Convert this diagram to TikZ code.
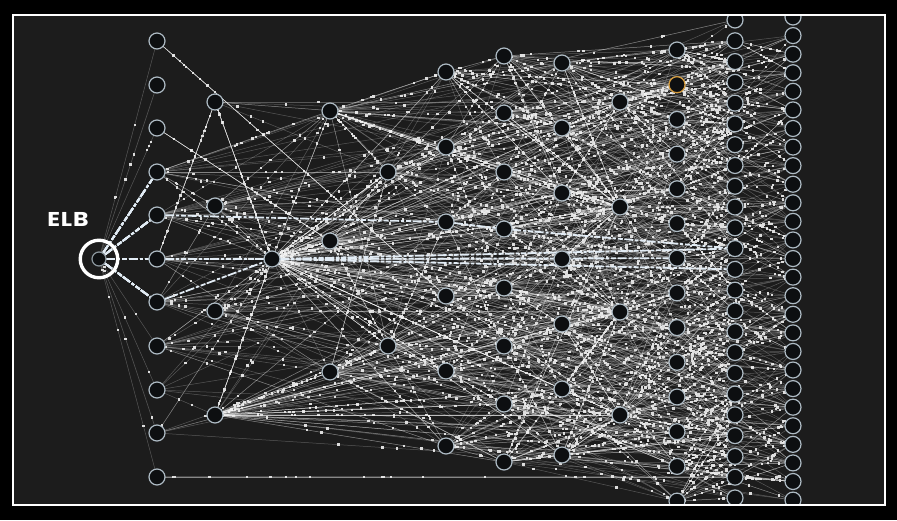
\documentclass[tikz,border=0pt]{standalone}
\usepackage{fontspec}
\newfontfamily\elbfont{Poppins}[LetterSpace=4,FakeStretch=1.18]
\usetikzlibrary{calc}
\definecolor{panel}{HTML}{1C1C1C}
\definecolor{hubline}{HTML}{AEBBC4}
\definecolor{hubfill}{HTML}{0D0F11}
\definecolor{hot}{HTML}{E2ECF5}
\definecolor{packet}{HTML}{DCDCDC}
\definecolor{warn}{HTML}{D49A3A}

% nodes per column, left to right, and where each column starts and ends
\def\colsize{{11,4,1,3,2,6,8,7,4,14,24,27}}
\def\coltop{{41,102,259,111,172,72,56,63,102,50,20,17}}
\def\colbot{{477,415,259,372,346,446,462,455,415,501,498,500}}
% one link with packets on it
\newcommand\netlink[2]{%
  \pgfmathsetmacro\pa{rnd}\pgfmathsetmacro\pb{rnd}\pgfmathsetmacro\pc{rnd}%
  \draw[link] (#1) -- (#2);
  \fill[packet] ($(#1)!\pa!(#2)$) ++(-1.2,-1.2) rectangle ++(2.4,2.4);
  \fill[packet] ($(#1)!\pb!(#2)$) ++(-1.2,-1.2) rectangle ++(2.4,2.4);
  \fill[packet] ($(#1)!\pc!(#2)$) ++(-1.2,-1.2) rectangle ++(2.4,2.4);}
% random links from some rows of a column to columns further right
\newcommand\fanright[4]{% column, rows, links per row, vertical spread
  \foreach \ri in {#2}{
    \path (n#1-\ri.center); \pgfgetlastxy{\sx}{\sy}
    \foreach \ei in {1,...,#3}{
      \pgfmathtruncatemacro\tc{random(#1+1,12)}
      \pgfmathtruncatemacro\tm{\colsize[\tc-1]}
      \pgfmathsetmacro\ttop{\coltop[\tc-1]}
      \pgfmathsetmacro\tbot{\colbot[\tc-1]}
      \pgfmathsetmacro\ty{-1*(\sy)+random(-#4,#4)}
      \pgfmathsetmacro\ty{\ttop+abs(\ty-\ttop)}
      \pgfmathsetmacro\ty{\tbot-abs(\tbot-\ty)}
      \pgfmathtruncatemacro\tr{min(\tm,max(1,round((\ty-\ttop)/max(1,\tbot-\ttop)*(\tm-1))+1))}
      \netlink{n#1-\ri}{n\tc-\tr}
    }}}

\begin{document}
\begin{tikzpicture}[x=1pt,y=-1pt,
  hub/.style={circle,minimum size=16pt,inner sep=0pt},
  hubring/.style={draw=hubline,fill=hubfill,line width=1.2pt},
  link/.style={draw=white,draw opacity=0.26,line width=0.5pt},
  hotlink/.style={draw=hot,line width=1.8pt,dash pattern=on 9pt off 2pt on 3pt off 2pt on 5pt off 1.5pt}
]
\useasboundingbox (0,0) rectangle (897,520);
\fill[black] (0,0) rectangle (897,520);
\fill[panel] (13,15) rectangle (885,505);

% servers, column by column
\foreach \y [count=\i] in {41,85,128,172,215,259,302,346,390,433,477}
  \node[hub] (n1-\i) at (157,\y) {};
\foreach \y [count=\i] in {102,206,311,415}
  \node[hub] (n2-\i) at (215,\y) {};
\node[hub] (n3-1) at (272,259) {};
\foreach \y [count=\i] in {111,241,372}
  \node[hub] (n4-\i) at (330,\y) {};
\foreach \y [count=\i] in {172,346}
  \node[hub] (n5-\i) at (388,\y) {};
\foreach \y [count=\i] in {72,147,222,296,371,446}
  \node[hub] (n6-\i) at (446,\y) {};
\foreach \y [count=\i] in {56,113,172,229,288,346,404,462}
  \node[hub] (n7-\i) at (504,\y) {};
\foreach \y [count=\i] in {63,128,193,259,324,389,455}
  \node[hub] (n8-\i) at (562,\y) {};
\foreach \y [count=\i] in {102,207,312,415}
  \node[hub] (n9-\i) at (620,\y) {};
\foreach \i in {1,...,14}
  \node[hub] (n10-\i) at (677,{50+34.7*(\i-1)}) {};
\foreach \i in {1,...,24}
  \node[hub] (n11-\i) at (735,{20+20.78*(\i-1)}) {};
\foreach \i in {1,...,27}
  \node[hub] (n12-\i) at (793,{17+18.58*(\i-1)}) {};
\node[hub,minimum size=14pt] (elbcore) at (99,259) {};

\pgfmathsetseed{2718}
% thin links out of the balancer
\foreach \i in {1,2,3,8,9,10,11}
  \netlink{elbcore}{n1-\i}
\netlink{n1-1}{n6-4}
\netlink{n1-3}{n4-2}
\netlink{n2-1}{n1-6}
\netlink{n2-1}{n3-1}
\netlink{n1-11}{n11-23}
% the bulk of the traffic
\fanright{1}{4,5,6,7,8}{3}{150}
\fanright{1}{9,10}{1}{150}
\fanright{2}{1}{1}{120}
\fanright{2}{2,3}{4}{180}
\fanright{2}{4}{12}{180}
\fanright{3}{1}{22}{240}
\fanright{4}{1,...,3}{7}{180}
\fanright{5}{1,2}{6}{180}
\fanright{6}{1,...,6}{5}{160}
\fanright{7}{1,...,8}{5}{160}
\fanright{8}{1,...,7}{5}{160}
\fanright{9}{1,...,4}{5}{160}
% short hops into the two right columns
\foreach \ri in {1,...,14}{
  \foreach \ei in {1,2,3}{
    \pgfmathsetmacro\yy{50+34.7*(\ri-1)+random(-90,90)}
    \pgfmathsetmacro\yy{30+abs(\yy-30)}
    \pgfmathsetmacro\yy{490-abs(490-\yy)}
    \pgfmathtruncatemacro\ka{min(24,max(1,round((\yy-20)/20.78)+1))}
    \pgfmathtruncatemacro\la{min(27,max(1,round((\yy-17)/18.58)+1))}
    \pgfmathtruncatemacro\tc{random(11,13)}
    \ifnum\tc<13 \netlink{n10-\ri}{n11-\ka}\else\netlink{n10-\ri}{n12-\la}\fi
  }}
\foreach \ri in {2,5,...,24}{
  \pgfmathsetmacro\yy{20+20.78*(\ri-1)+random(-60,60)}
  \pgfmathsetmacro\yy{30+abs(\yy-30)}
  \pgfmathsetmacro\yy{490-abs(490-\yy)}
  \pgfmathtruncatemacro\la{min(27,max(1,round((\yy-17)/18.58)+1))}
  \netlink{n11-\ri}{n12-\la}
}
% busy paths
\foreach \i in {4,5,6,7}
  \draw[hotlink] (elbcore) -- (n1-\i);
\draw[hotlink] (n1-6) -- (n3-1);
\draw[hotlink] (n1-7) -- (n3-1);
\draw[hotlink] (n1-5) -- (n6-3);
\draw[hotlink] (n6-3) -- (n7-4);
\draw[hotlink] (n7-4) -- (n11-12);
\draw[hotlink] (n3-1) -- (n10-7);
\draw[hotlink] (n3-1) -- (n11-12);
\draw[hotlink] (n3-1) -- (n11-13);

% paint the servers over their links
\begin{scope}
\clip (13,15) rectangle (885,505);
\foreach \c/\m in {1/11,2/4,3/1,4/3,5/2,6/6,7/8,8/7,9/4,10/14,11/24,12/27}
  \foreach \i in {1,...,\m}
    \filldraw[hubring] (n\c-\i.center) circle[radius=8];
\draw[hubring,draw=warn] (n10-2.center) circle[radius=8];
\end{scope}
\filldraw[hubring,draw=hubline!80!black] (elbcore.center) circle[radius=7];

% load balancer
\node[circle,draw=white,line width=3.4pt,minimum size=37.5pt,inner sep=0pt] (elb) at (99,259) {};
\node[text=white,font=\elbfont\bfseries\fontsize{20}{24}\selectfont] (elbtag) at (68,219) {ELB};

\draw[white,line width=2pt] (13,15) rectangle (885,505);
\end{tikzpicture}
\end{document}
